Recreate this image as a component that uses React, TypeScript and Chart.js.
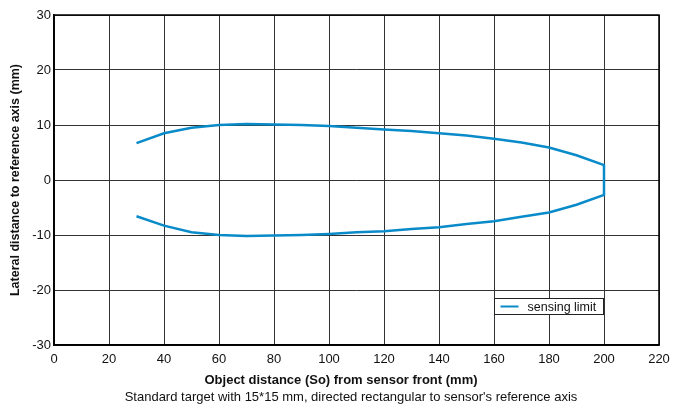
import React, { useEffect, useRef } from "react";
import { Chart, registerables } from "chart.js";

Chart.register(...registerables);

const distances = [30, 40, 50, 60, 70, 80, 90, 100, 110, 120, 130, 140, 150, 160, 170, 180, 190, 200];
const upperLimit = [6.7, 8.5, 9.5, 10.0, 10.2, 10.1, 10.0, 9.8, 9.5, 9.2, 8.9, 8.5, 8.1, 7.5, 6.8, 5.9, 4.5, 2.7];
const lowerLimit = [-6.6, -8.3, -9.5, -10.0, -10.2, -10.1, -10.0, -9.8, -9.5, -9.3, -8.9, -8.6, -8.0, -7.5, -6.7, -5.9, -4.5, -2.7];

const seriesLabel = "sensing limit";
const xTitle = "Object distance (So) from sensor front (mm)";
const yTitle = "Lateral distance to reference axis (mm)";
const footnote = "Standard target with 15*15 mm, directed rectangular to sensor's reference axis";

const LINE_COLOR = "#0a8bc9";
const FONT = "'Liberation Sans', Arial, sans-serif";

export default function App() {
  const ref = useRef<HTMLCanvasElement | null>(null);

  useEffect(() => {
    if (!ref.current) return;
    const points = [
      ...distances.map((x, i) => ({ x, y: upperLimit[i] })),
      ...distances.map((x, i) => ({ x, y: lowerLimit[i] })).reverse(),
    ];

    const textPlugin = {
      id: "texts",
      afterDraw(chart: any) {
        const { ctx, chartArea } = chart;
        ctx.save();
        ctx.fillStyle = "#111";
        ctx.textAlign = "center";
        ctx.textBaseline = "middle";
        ctx.font = `bold 13px ${FONT}`;
        ctx.fillText(xTitle, 341, 380);
        ctx.font = `13px ${FONT}`;
        ctx.fillText(footnote, 351, 397);
        ctx.translate(16, 180);
        ctx.rotate(-Math.PI / 2);
        ctx.font = `bold 12.5px ${FONT}`;
        ctx.fillText(yTitle, 0, 0);
        ctx.restore();

        // legend box
        const xs = chart.scales.x;
        const ys = chart.scales.y;
        const lx = Math.round(xs.getPixelForValue(160)) + 0.5;
        const ly = Math.round(ys.getPixelForValue(-21.5)) + 0.5;
        const w = 109;
        const h = 16;
        ctx.save();
        ctx.fillStyle = "#fff";
        ctx.fillRect(lx, ly, w, h);
        ctx.strokeStyle = "#222";
        ctx.lineWidth = 1;
        ctx.strokeRect(lx, ly, w, h);
        ctx.strokeStyle = LINE_COLOR;
        ctx.lineWidth = 2;
        ctx.beginPath();
        ctx.moveTo(lx + 6, ly + h / 2);
        ctx.lineTo(lx + 24, ly + h / 2);
        ctx.stroke();
        ctx.fillStyle = "#111";
        ctx.font = `12.5px ${FONT}`;
        ctx.textAlign = "left";
        ctx.textBaseline = "middle";
        ctx.fillText(seriesLabel, lx + 33, ly + h / 2 + 1);
        ctx.restore();
      },
    };

    const chart = new Chart(ref.current, {
      type: "line",
      data: {
        datasets: [
          {
            label: seriesLabel,
            data: points,
            borderColor: LINE_COLOR,
            borderWidth: 2.5,
            pointRadius: 0,
            tension: 0,
            fill: false,
          },
        ],
      },
      options: {
        animation: false,
        responsive: false,
        maintainAspectRatio: false,
        layout: { padding: { left: 0, right: 24, top: 15, bottom: 0 } },
        plugins: { legend: { display: false }, tooltip: { enabled: false } },
        scales: {
          x: {
            type: "linear",
            min: 0,
            max: 220,
            ticks: { stepSize: 20, color: "#111", font: { family: FONT, size: 13 }, padding: 7 },
            grid: { color: "#333", lineWidth: 1, drawTicks: false },
            border: { color: "#000", width: 1.5 },
            afterFit: (s: any) => {
              s.height = 60;
            },
          },
          y: {
            type: "linear",
            min: -30,
            max: 30,
            ticks: { stepSize: 10, color: "#111", font: { family: FONT, size: 13 }, padding: 3 },
            grid: { color: "#333", lineWidth: 1, drawTicks: false },
            border: { color: "#000", width: 1.5 },
            afterFit: (s: any) => {
              s.width = 54;
            },
          },
        },
      },
      plugins: [
        textPlugin,
        {
          id: "frame",
          afterDraw(chart: any) {
            const { ctx, chartArea } = chart;
            ctx.save();
            ctx.strokeStyle = "#000";
            ctx.lineWidth = 1.5;
            ctx.strokeRect(chartArea.left, chartArea.top, chartArea.right - chartArea.left, chartArea.bottom - chartArea.top);
            ctx.restore();
          },
        },
      ],
    });
    return () => chart.destroy();
  }, []);

  return (
    <div style={{ position: "fixed", left: 0, top: 0, width: 683, height: 405, background: "#fff" }}>
      <canvas ref={ref} width={683} height={405} style={{ display: "block" }} />
    </div>
  );
}
